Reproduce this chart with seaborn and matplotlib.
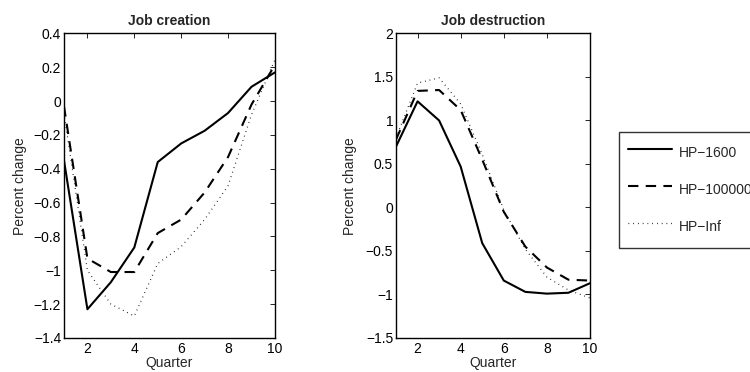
import numpy as np
import pandas as pd
import matplotlib
matplotlib.use("Agg")
import matplotlib.pyplot as plt
import seaborn as sns

sns.set_theme(style="white")
plt.rcParams['font.family'] = ['Liberation Sans', 'DejaVu Sans']

quarters = [1, 2, 3, 4, 5, 6, 7, 8, 9, 10]
series_names = ["HP\u22121600", "HP\u2212100000", "HP\u2212Inf"]

jc_hp1600 = [-0.35, -1.23, -1.07, -0.865, -0.36, -0.25, -0.175, -0.07, 0.085, 0.17]
jc_hp100000 = [-0.03, -0.93, -1.01, -1.01, -0.78, -0.70, -0.54, -0.33, -0.02, 0.215]
jc_hpinf = [-0.07, -1.0, -1.2, -1.27, -0.96, -0.86, -0.70, -0.50, -0.08, 0.245]

jd_hp1600 = [0.70, 1.22, 1.0, 0.47, -0.41, -0.84, -0.97, -0.99, -0.98, -0.87]
jd_hp100000 = [0.78, 1.34, 1.35, 1.12, 0.55, -0.05, -0.45, -0.69, -0.83, -0.84]
jd_hpinf = [0.80, 1.43, 1.49, 1.19, 0.61, -0.03, -0.48, -0.80, -0.95, -1.04]

creation = [jc_hp1600, jc_hp100000, jc_hpinf]
destruction = [jd_hp1600, jd_hp100000, jd_hpinf]

styles = [dict(linestyle="-", linewidth=1.5),
          dict(linestyle=(0, (5.0, 3.5)), linewidth=1.5),
          dict(linestyle=(0, (0.6, 3.2)), linewidth=0.9)]

FS = 10

fig = plt.figure(figsize=(7.5, 3.72), dpi=100)
ax1 = fig.add_axes([0.0853, 0.0914, 0.2813, 0.8186])
ax2 = fig.add_axes([0.528, 0.0914, 0.2587, 0.8186])

def fmt(v):
    s = ("%g" % v)
    return s.replace("-", "\u2212")

def draw(ax, data, title, ylim, yticks, label_x):
    for name, vals, st in zip(series_names, data, styles):
        df = pd.DataFrame({"Quarter": quarters, "val": vals})
        sns.lineplot(data=df, x="Quarter", y="val", ax=ax, color="black",
                     label=name, legend=False, **st)
    ax.set_xlim(1, 10)
    ax.set_ylim(*ylim)
    ax.set_xticks([2, 4, 6, 8, 10])
    ax.set_yticks(yticks)
    ax.set_yticklabels([fmt(v) for v in yticks])
    ax.set_title(title, fontsize=FS, fontweight="bold", pad=6)
    ax.set_xlabel("Quarter", fontsize=FS, labelpad=0)
    ax.set_ylabel("Percent change", fontsize=FS)
    ax.yaxis.set_label_coords(label_x, 0.5)
    ax.tick_params(direction="in", length=3.5, width=0.6, labelsize=FS,
                   top=True, right=True, colors="black")
    ax.tick_params(axis="y", pad=2)
    ax.tick_params(axis="x", pad=3)
    for sp in ax.spines.values():
        sp.set_visible(True)
        sp.set_color("black")
        sp.set_linewidth(1.0)

jc_ticks = [-1.4, -1.2, -1.0, -0.8, -0.6, -0.4, -0.2, 0.0, 0.2, 0.4]
jd_ticks = [-1.5, -1.0, -0.5, 0.0, 0.5, 1.0, 1.5, 2.0]
draw(ax1, creation, "Job creation", (-1.4, 0.4), jc_ticks, -0.175)
draw(ax2, destruction, "Job destruction", (-1.5, 2.0), jd_ticks, -0.20)

handles, labels = ax1.get_legend_handles_labels()
leg = fig.legend(handles, labels, loc="upper left", bbox_to_anchor=(0.825, 0.645),
                 fontsize=FS, frameon=True, fancybox=False, shadow=False,
                 handlelength=3.2, handleheight=2.2, handletextpad=0.45,
                 labelspacing=1.0, borderpad=0.65, borderaxespad=0)
leg.get_frame().set_edgecolor("black")
leg.get_frame().set_linewidth(1.0)

fig.savefig("out.png", dpi=100, facecolor="white")
